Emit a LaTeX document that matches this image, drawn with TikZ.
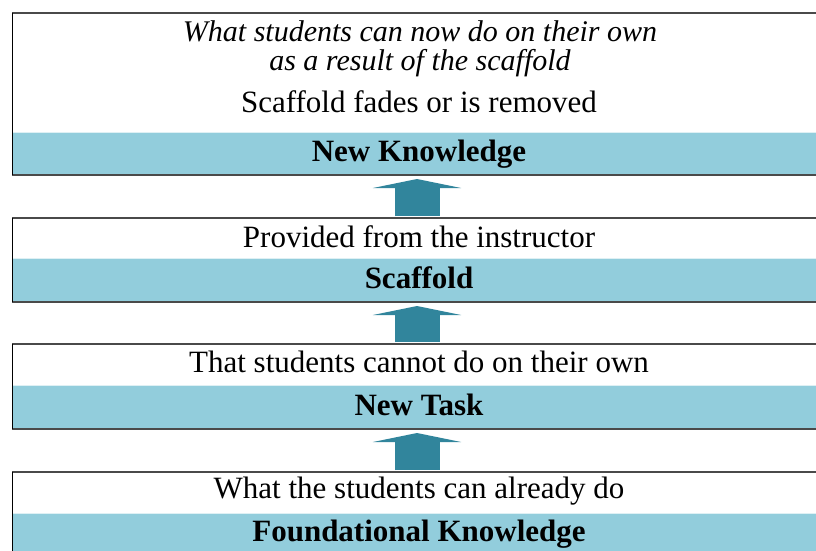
\documentclass[tikz,border=0pt]{standalone}
\usepackage{fontspec}
\setmainfont{Liberation Serif}
\usetikzlibrary{arrows.meta}
\definecolor{bandblue}{HTML}{92CDDC}
\definecolor{arrowteal}{HTML}{31859C}
\definecolor{rulegray}{HTML}{4A4A4A}
\tikzset{
  band/.style={fill=bandblue},
  toprule/.style={draw=rulegray, line width=1.4pt},
  siderule/.style={draw=black, line width=1pt},
  botrule/.style={draw=rulegray, line width=1.8pt},
  bandedge/.style={draw=white!70!bandblue, line width=0.8pt},
  txt/.style={anchor=base, inner sep=0pt, font=\fontsize{31}{33}\selectfont},
  itxt/.style={anchor=north, inner sep=0pt, align=center,
    font=\fontsize{30}{29}\selectfont\itshape},
  btxt/.style={txt, font=\fontsize{31}{33}\selectfont\bfseries},
  uparrow/.style={draw=arrowteal, line width=45pt,
    -{Triangle[width=88pt, length=9pt, fill=arrowteal]},
    shorten >=4pt, shorten <=2pt},
}
\begin{document}
\begin{tikzpicture}[x=1pt, y=-1pt]
\useasboundingbox (0,0) rectangle (816,551);
\fill[white] (0,0) rectangle (816,551);

% panels: top edge, band top, band bottom
\foreach \t/\b/\e [count=\i] in {13/132/175, 218/258/302, 344/385/429, 472/513/560} {
  \fill[band] (12,\b) rectangle (830,\e);
  \draw[bandedge] (12,\b) -- (830,\b);
  \draw[toprule] (12,\t) -- (830,\t);
  \draw[botrule] (12,\e) -- (830,\e);
  \draw[siderule] (12,\t) -- (12,\e);
  \coordinate (top\i) at (417,\t);
  \coordinate (bot\i) at (417,\e);
}

% texts
\node[itxt] (t1a) at (420,20) {What students can now do on their own\\as a result of the scaffold};
\node[txt]  (t1c) at (419,112) {Scaffold fades or is removed};
\node[btxt] (h1)  at (419,161) {New Knowledge};

\node[txt]  (t2)  at (419,247) {Provided from the instructor};
\node[btxt] (h2)  at (419,288) {Scaffold};

\node[txt]  (t3)  at (419,372) {That students cannot do on their own};
\node[btxt] (h3)  at (419,415) {New Task};

\node[txt]  (t4)  at (419,498) {What the students can already do};
\node[btxt] (h4)  at (419,541) {Foundational Knowledge};

% block arrows between panels
\draw[uparrow] (top2) -- (bot1);
\draw[uparrow] (top3) -- (bot2);
\draw[uparrow] (top4) -- (bot3);
\end{tikzpicture}
\end{document}
